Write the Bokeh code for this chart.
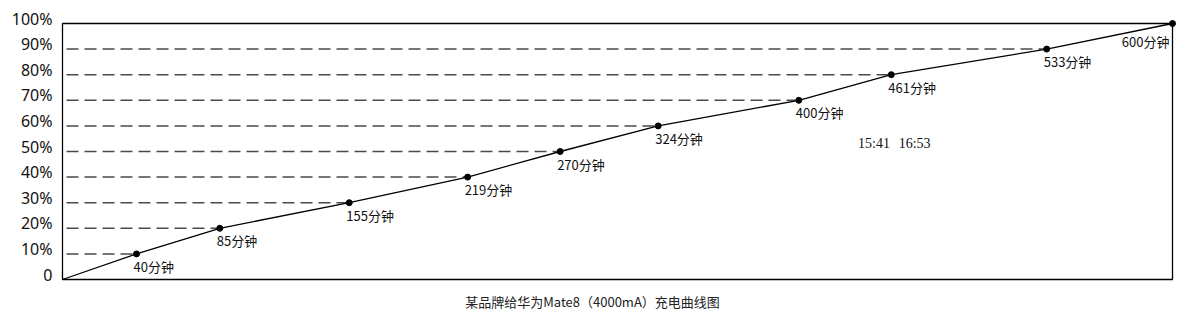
from bokeh.plotting import figure
from bokeh.models import Range1d, ColumnDataSource
from bokeh.core.properties import value
from bokeh.embed import file_html
from bokeh.resources import INLINE

# x positions (minutes) as drawn, and the point labels
minutes = [0, 40, 85, 155, 219, 269, 322, 398, 448, 532, 600]
percent = [0, 10, 20, 30, 40, 50, 60, 70, 80, 90, 100]
labels = ["", "40分钟", "85分钟", "155分钟", "219分钟", "270分钟", "324分钟",
          "400分钟", "461分钟", "533分钟", "600分钟"]
y_ticks = [0, 10, 20, 30, 40, 50, 60, 70, 80, 90, 100]
y_tick_labels = ["0", "10%", "20%", "30%", "40%", "50%", "60%", "70%", "80%", "90%", "100%"]
title_text = "某品牌给华为Mate8（4000mA）充电曲线图"
note_times = ["15:41", "16:53"]
note_x = [430, 452]
note_y = 53

W, H = 1187, 320
# chart box in page pixels
BOX_L, BOX_R, BOX_T, BOX_B = 62, 1172, 23, 279
XMAX, YMAX = 600, 100
sx = (BOX_R - BOX_L) / XMAX
sy = (BOX_B - BOX_T) / YMAX


def px2x(px):
    return (px - BOX_L) / sx


def py2y(py):
    return (BOX_B - py) / sy


p = figure(width=W, height=H, output_backend="svg", toolbar_location=None,
           x_range=Range1d(px2x(0), px2x(W)), y_range=Range1d(py2y(H), py2y(0)),
           min_border=0, min_border_left=0, min_border_right=0,
           min_border_top=0, min_border_bottom=0)
p.xaxis.visible = False
p.yaxis.visible = False
p.xgrid.visible = False
p.ygrid.visible = False
p.outline_line_color = None
p.background_fill_color = "white"
p.border_fill_color = "white"

# frame box
p.quad(left=[0], right=[XMAX], bottom=[0], top=[YMAX], fill_color=None,
       line_color="black", line_width=1.3)

# y tick labels
p.text(x=[0] * len(y_ticks), y=y_ticks, text=y_tick_labels, x_offset=-10, y_offset=-5,
       text_align="right", text_baseline="middle", text_font=value("Noto Sans"),
       text_font_size="16px", text_color="#111111")

# dashed guide lines
src_d = ColumnDataSource(dict(x0=[0] * 9, x1=minutes[1:10], y=percent[1:10]))
p.segment(x0="x0", y0="y", x1="x1", y1="y", source=src_d, line_color="#4a4a4a",
          line_width=1.5, line_dash="12 6", line_dash_offset=-4)

p.line(minutes, percent, line_color="black", line_width=1.3)
p.scatter(minutes[1:], percent[1:], size=6, color="black")

src_l = ColumnDataSource(dict(x=minutes[1:10], y=percent[1:10], t=labels[1:10]))
p.text(x="x", y="y", text="t", source=src_l, x_offset=-3, y_offset=3,
       text_baseline="top", text_align="left", text_font=value("Noto Sans CJK SC"),
       text_font_size="13px", text_color="#111111")
p.text(x=[minutes[10]], y=[percent[10]], text=[labels[10]], x_offset=-3, y_offset=8,
       text_baseline="top", text_align="right", text_font=value("Noto Sans CJK SC"),
       text_font_size="13px", text_color="#111111")

p.text(x=note_x, y=[note_y] * len(note_x), text=note_times,
       text_font=value("Liberation Serif"), text_font_size="14px", text_color="#111111",
       text_align="left", text_baseline="middle")

p.text(x=[px2x(592)], y=[py2y(301)], text=[title_text],
       text_font=value("Noto Sans CJK SC"), text_font_size="13px",
       text_color="#222222", text_align="center", text_baseline="middle")

open("out.html", "w").write(file_html(p, INLINE))
